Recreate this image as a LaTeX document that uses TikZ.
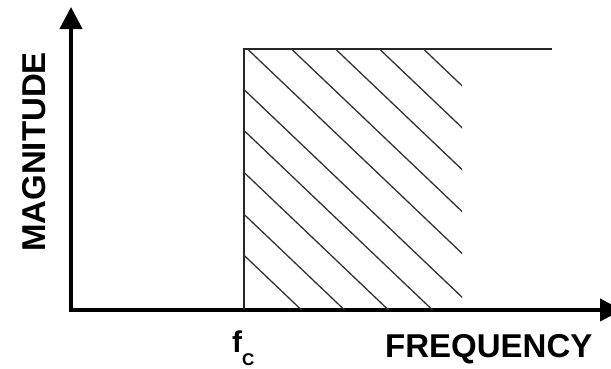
\documentclass[tikz,border=0pt]{standalone}
\usepackage{fontspec}
\setmainfont{Liberation Sans}
\usetikzlibrary{arrows.meta}
\tikzset{
  axis/.style={line width=4pt, -{Triangle[length=22pt,width=22pt]}},
  thin/.style={line width=1.4pt, color=black!85},
  hatch/.style={line width=1.3pt, color=black!80},
  lbl/.style={inner sep=0pt, font=\fontsize{33}{36}\selectfont\bfseries}
}
\begin{document}
\begin{tikzpicture}[x=1pt,y=-1pt]
\useasboundingbox (0,0) rectangle (611,368);
% axes
\coordinate (O) at (71,310);
\coordinate (Ytop) at (71,7);
\coordinate (Xend) at (622,310);
\draw[axis] (69,310) -- (Xend);
\draw[axis] (71,312) -- (Ytop);
% pass band
\coordinate (fc) at (244,310);
\coordinate (corner) at (244,49);
\coordinate (topend) at (552,49);
\draw[thin] (fc) -- (corner) -- (topend);
% hatching
\begin{scope}
\clip (244,49) rectangle (462,309);
\foreach \c in {195,239,283,327,371,149,106,62,18,-25} {
  \draw[hatch] ({\c-20},-20) -- ({\c+400},380);
}
\end{scope}
% labels
\node[lbl, rotate=90] (mag) at (34,152) {MAGNITUDE};
\node[lbl, anchor=base west] (freq) at (385,357) {FREQUENCY};
\node[inner sep=0pt, anchor=base west, font=\fontsize{30}{32}\selectfont\bfseries] (f) at (232,352) {f\raisebox{-13pt}{\fontsize{17}{18}\selectfont C}};
\end{tikzpicture}
\end{document}
